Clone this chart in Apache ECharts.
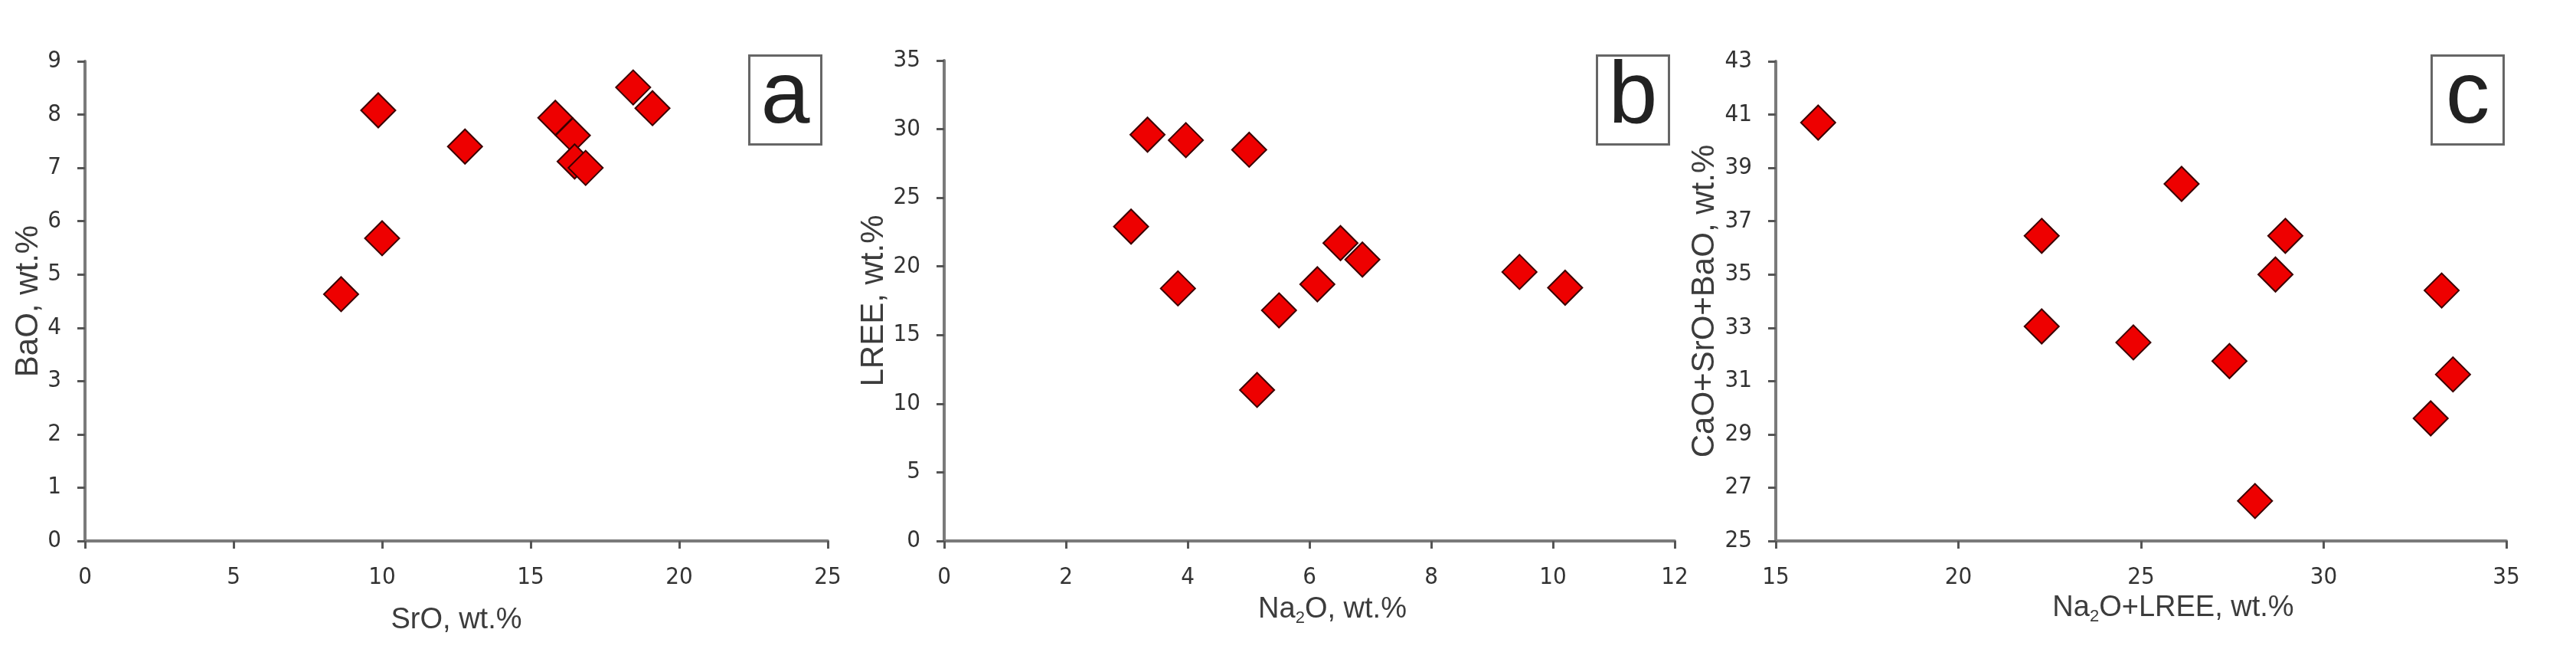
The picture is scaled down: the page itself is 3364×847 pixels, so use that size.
<!DOCTYPE html>
<html>
<head>
<meta charset="utf-8">
<script src="https://cdn.jsdelivr.net/npm/echarts@6/dist/echarts.min.js"></script>
<style>
html,body{margin:0;padding:0;background:#fff;}
#chart{width:3364px;height:847px;}
</style>
</head>
<body>
<div id="chart"></div>
<script>
// Panel a: SrO vs BaO
const srO_a = [9.87, 12.79, 10.0, 8.62, 15.83, 16.42, 16.48, 16.85, 18.45, 19.10];
const baO_a = [8.08, 7.40, 5.68, 4.63, 7.94, 7.61, 7.12, 7.00, 8.51, 8.12];
// Panel b: Na2O vs LREE
const na2O_b = [3.34, 3.97, 5.01, 3.07, 3.84, 5.50, 5.14, 6.13, 6.51, 6.87, 9.45, 10.20];
const lree_b = [29.6, 29.2, 28.5, 22.9, 18.4, 16.8, 11.0, 18.7, 21.7, 20.5, 19.6, 18.45];
// Panel c: Na2O+LREE vs CaO+SrO+BaO
const sum_c_x = [16.16, 26.11, 22.28, 28.95, 28.68, 33.23, 22.28, 24.79, 27.42, 33.54, 32.93, 28.12];
const sum_c_y = [40.7, 38.4, 36.45, 36.45, 35.0, 34.4, 33.05, 32.45, 31.75, 31.25, 29.6, 26.5];

const panelLabels = ['a', 'b', 'c'];
const xNames = ['SrO, wt.%', 'Na{s|2}O, wt.%', 'Na{s|2}O+LREE, wt.%'];
const yNames = ['BaO, wt.%', 'LREE, wt.%', 'CaO+SrO+BaO, wt.%'];
const xRanges = [[0, 25, 5], [0, 12, 2], [15, 35, 5]];
const yRanges = [[0, 9, 1], [0, 35, 5], [25, 43, 2]];

function pairs(xs, ys) { return xs.map((v, i) => [v, ys[i]]); }
const seriesData = [pairs(srO_a, baO_a), pairs(na2O_b, lree_b), pairs(sum_c_x, sum_c_y)];

const grids = [
  {left: 111, top: 80, width: 970, height: 626},
  {left: 1233, top: 79, width: 954, height: 627},
  {left: 2319, top: 80, width: 954, height: 626}
];
const yNameGap = [50, 66, 72];
const xNameGap = [85, 68, 66];
const xNamePad = [[0,0,0,0],[0,0,0,60],[0,0,0,84]];
const boxes = [977, 2084, 3174];

const axisColor = '#7a7a7a';
const tickFont = {color: '#333', fontSize: 31, fontFamily: '"Liberation Sans Narrow","DejaVu Sans Condensed",sans-serif'};
const nameFont = 'Liberation Sans, Arial, sans-serif';

const option = {
  animation: false,
  backgroundColor: '#fff',
  grid: grids,
  xAxis: grids.map((g, i) => ({
    type: 'value', gridIndex: i,
    min: xRanges[i][0], max: xRanges[i][1], interval: xRanges[i][2],
    name: xNames[i], nameLocation: 'middle', nameGap: xNameGap[i],
    nameTextStyle: {color: '#3c3c3c', fontSize: 38, fontFamily: nameFont, padding: xNamePad[i],
      rich: {s: {fontSize: 22, fontFamily: nameFont, color: '#3c3c3c', verticalAlign: 'bottom', padding: [22,0,0,0]}}},
    axisLine: {show: true, onZero: false, lineStyle: {color: axisColor, width: 4}},
    axisTick: {show: true, inside: false, length: 10, lineStyle: {color: '#555', width: 3}},
    axisLabel: Object.assign({margin: 32}, tickFont),
    splitLine: {show: false}
  })),
  yAxis: grids.map((g, i) => ({
    type: 'value', gridIndex: i,
    min: yRanges[i][0], max: yRanges[i][1], interval: yRanges[i][2],
    name: yNames[i], nameLocation: 'middle', nameGap: yNameGap[i], nameRotate: 90,
    nameTextStyle: {color: '#3c3c3c', fontSize: 42, fontFamily: nameFont},
    axisLine: {show: true, onZero: false, lineStyle: {color: axisColor, width: 4}},
    axisTick: {show: true, inside: false, length: 10, lineStyle: {color: '#555', width: 3}},
    axisLabel: Object.assign({margin: 31}, tickFont),
    splitLine: {show: false}
  })),
  series: seriesData.map((d, i) => ({
    type: 'scatter', xAxisIndex: i, yAxisIndex: i,
    symbol: 'diamond', symbolSize: 45,
    itemStyle: {color: '#ee0000', borderColor: '#3a0000', borderWidth: 2, opacity: 1},
    data: d
  })),
  graphic: boxes.map((bx, i) => ({
    type: 'group', left: bx, top: 71,
    children: [
      {type: 'rect', shape: {x: 0, y: 0, width: 94, height: 116},
       style: {fill: '#fff', stroke: '#666', lineWidth: 3}},
      {type: 'text', x: 47, y: 56,
       style: {text: panelLabels[i], fill: '#222', font: '115px "Liberation Sans", Arial, sans-serif',
               textAlign: 'center', textVerticalAlign: 'middle'}}
    ]
  }))
};

const chart = echarts.init(document.getElementById('chart'));
chart.setOption(option);
</script>
</body>
</html>
